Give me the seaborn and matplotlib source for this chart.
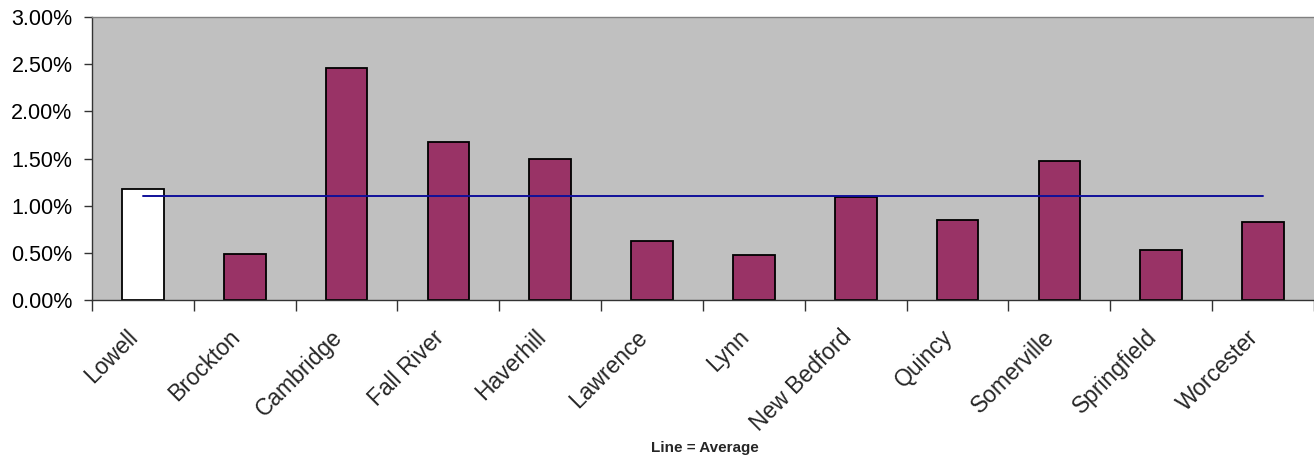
import matplotlib
matplotlib.use("Agg")
import matplotlib.pyplot as plt
from matplotlib.ticker import FuncFormatter, FixedLocator
import seaborn as sns
import pandas as pd

# City rates (percent) and the overall average
cities = ["Lowell", "Brockton", "Cambridge", "Fall River", "Haverhill", "Lawrence",
          "Lynn", "New Bedford", "Quincy", "Somerville", "Springfield", "Worcester"]
rates = [1.18, 0.49, 2.46, 1.675, 1.495, 0.625, 0.477, 1.09, 0.85, 1.474, 0.53, 0.83]
average = 1.10
y_ticks = [0.0, 0.5, 1.0, 1.5, 2.0, 2.5, 3.0]
footnote = "Line = Average"

sns.set_theme(style="white")
plt.rcParams["font.family"] = ["Liberation Sans", "DejaVu Sans"]

df = pd.DataFrame({"city": cities, "rate": rates})
palette = {c: ("#FFFFFF" if c == "Lowell" else "#993366") for c in cities}

fig = plt.figure(figsize=(13.14, 4.59), dpi=100)
ax = fig.add_axes([0.070, 0.346, 0.930, 0.617])
ax.set_facecolor("#C0C0C0")

sns.barplot(data=df, x="city", y="rate", hue="city", palette=palette, order=cities,
            width=0.41, saturation=1, edgecolor="black", linewidth=1.3, legend=False,
            ax=ax, zorder=2)

# Average line across category centers
ax.plot([0, len(cities) - 1], [average, average], color="#10109A", lw=1.4, zorder=3)

ax.set_ylim(0, 3.0)
ax.set_xlim(-0.5, 11.47)
ax.yaxis.set_major_locator(FixedLocator(y_ticks))
ax.yaxis.set_major_formatter(FuncFormatter(lambda v, p: f"{v:.2f}%"))
ax.tick_params(axis="y", labelsize=15.5, length=6, width=1, color="#333333",
               direction="out", left=True, pad=8, labelcolor="black")

# Ticks at category boundaries, labels at category centers
ax.set_xticks([i - 0.5 for i in range(len(cities) + 1)])
ax.set_xticklabels([])
ax.set_xticks(range(len(cities)), minor=True)
ax.set_xticklabels(cities, minor=True, rotation=45, ha="right", va="bottom",
                   rotation_mode="anchor", fontsize=16.5)
ax.tick_params(axis="x", which="major", length=8, width=1, color="#333333",
               direction="out", bottom=True)
ax.tick_params(axis="x", which="minor", length=0, pad=30)

ax.set_xlabel("")
ax.set_ylabel("")
for side in ["left", "bottom", "top"]:
    ax.spines[side].set_visible(True)
    ax.spines[side].set_color("#333333")
    ax.spines[side].set_linewidth(1)
ax.spines["top"].set_color("#808080")
ax.spines["right"].set_visible(False)

fig.text(0.5365, 0.024, footnote, ha="center", va="center", fontsize=11,
         fontweight="bold")

fig.savefig("out.png", dpi=100, facecolor="white")
